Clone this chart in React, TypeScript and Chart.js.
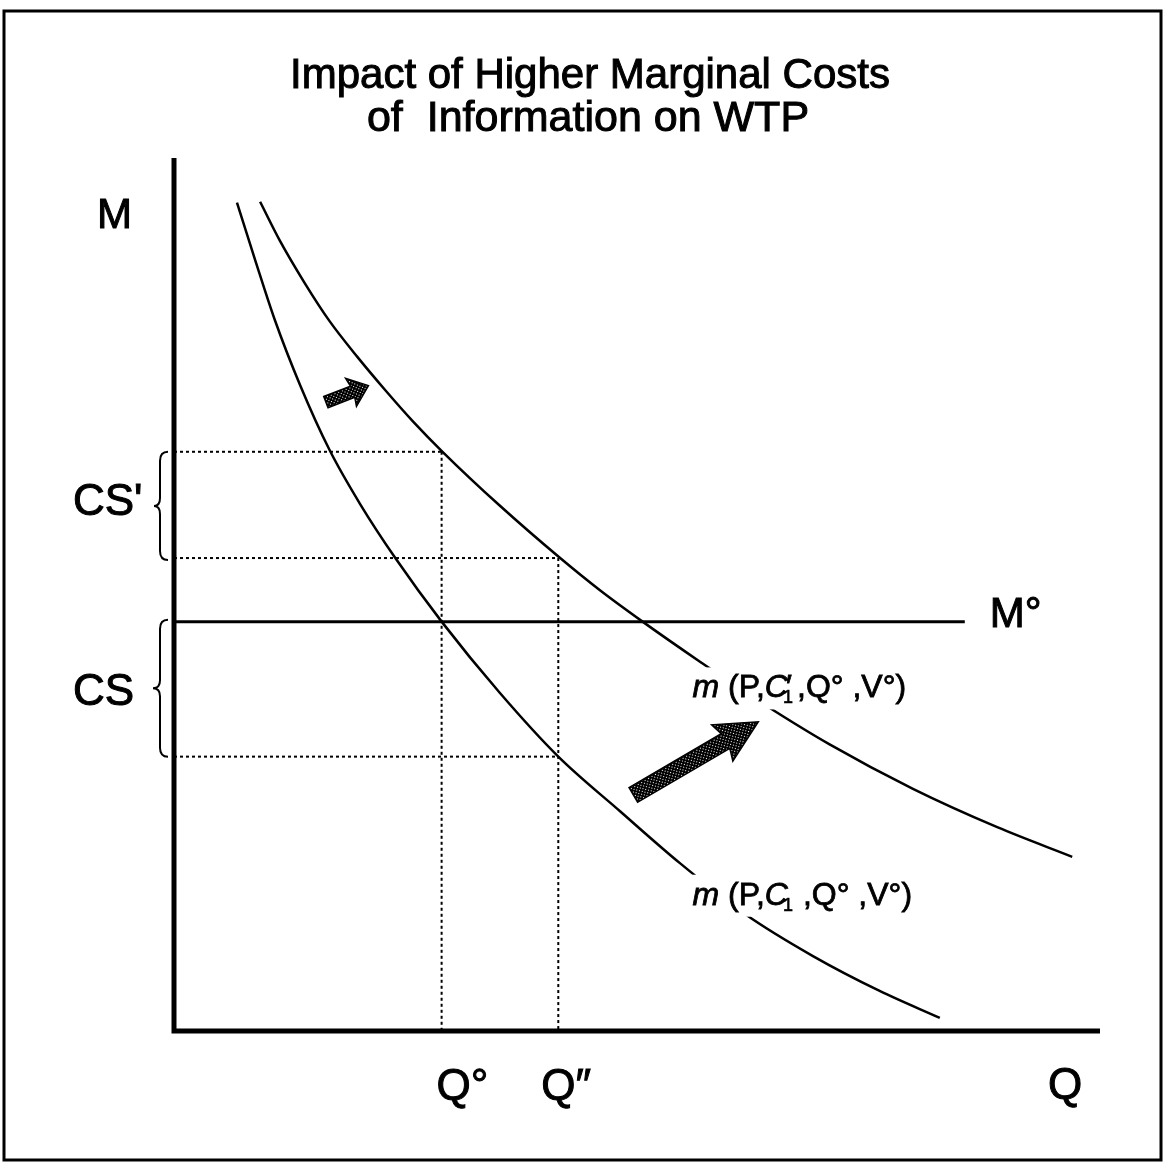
import React, { useEffect, useRef } from "react";
import { Chart, registerables } from "chart.js";

Chart.register(...registerables);

// ---- data (Q = quantity axis 0..100, M = money axis 0..100) ----
const Q_RANGE = [0, 100];
const M_RANGE = [0, 100];

// m(P, C1, Q°, V°)  (lower curve)
const lowerQ = [6.8, 8.8, 10.9, 13.6, 16.8, 20.1, 23.9, 28.9, 35.2, 41.5, 48.2, 54.6, 61.7, 69.0, 76.2, 82.7];
const lowerM = [95.1, 88.4, 81.6, 74.2, 66.7, 60.5, 54.3, 47.0, 38.8, 31.5, 25.2, 19.3, 13.4, 8.6, 4.6, 1.5];

// m(P, C1', Q°, V°)  (upper curve)
const upperQ = [9.3, 11.4, 14.1, 16.8, 19.8, 22.8, 25.8, 29.0, 35.2, 41.7, 46.0, 50.6, 56.8, 62.4, 70.8, 79.8, 88.9, 97.0];
const upperM = [95.2, 90.8, 85.9, 81.5, 77.4, 73.6, 70.0, 66.5, 60.3, 54.3, 50.6, 47.0, 42.4, 38.4, 32.9, 27.8, 23.4, 20.0];

const Q_ZERO = 28.9; // Q°
const Q_DOUBLE = 41.5; // Q″
const M_ZERO = 47.0; // M°
const M_ZERO_END = 85.4;
const UPPER_AT_QZERO = 66.5;
const UPPER_AT_QDOUBLE = 54.3;
const LOWER_AT_QDOUBLE = 31.5;

const TITLE_LINES = ["Impact of Higher Marginal Costs", "of  Information on WTP"];

// arrows: [tailQ, tailM, tipQ, tipM]
const SMALL_ARROW = [16.4, 72.2, 21.0, 74.1];
const BIG_ARROW = [49.6, 27.1, 63.1, 35.5];

const FONT = '"Liberation Sans", Arial, Helvetica, sans-serif';
const f = (size: number, italic = false) => `${italic ? "italic " : ""}${size}px ${FONT}`;

const pts = (qs: number[], ms: number[]) => qs.map((q, i) => ({ x: q, y: ms[i] }));

function heavyText(ctx: CanvasRenderingContext2D, t: string, x: number, y: number, w = 1) {
  ctx.fillText(t, x, y);
  ctx.lineWidth = w;
  ctx.strokeStyle = "#000";
  ctx.strokeText(t, x, y);
}

function makePattern(ctx: CanvasRenderingContext2D) {
  const c = document.createElement("canvas");
  c.width = 4;
  c.height = 4;
  const p = c.getContext("2d")!;
  p.fillStyle = "#000";
  p.fillRect(0, 0, 4, 4);
  p.fillStyle = "#fff";
  p.fillRect(1, 1, 1, 1);
  p.fillRect(3, 3, 1, 1);
  return ctx.createPattern(c, "repeat") || "#444";
}

function drawArrow(
  ctx: CanvasRenderingContext2D,
  x1: number, y1: number, x2: number, y2: number,
  sw: number, hw: number, hl: number
) {
  const dx = x2 - x1, dy = y2 - y1;
  const L = Math.hypot(dx, dy);
  const a = Math.atan2(dy, dx);
  ctx.save();
  ctx.translate(x1, y1);
  ctx.rotate(a);
  ctx.beginPath();
  ctx.moveTo(0, -sw / 2);
  ctx.lineTo(L - hl, -sw / 2);
  ctx.lineTo(L - hl * 1.1, -hw / 2);
  ctx.lineTo(L, 0);
  ctx.lineTo(L - hl * 1.1, hw / 2);
  ctx.lineTo(L - hl, sw / 2);
  ctx.lineTo(0, sw / 2);
  ctx.closePath();
  ctx.fillStyle = makePattern(ctx);
  ctx.fill();
  ctx.lineWidth = 1.5;
  ctx.strokeStyle = "#000";
  ctx.stroke();
  ctx.restore();
}

function drawBrace(ctx: CanvasRenderingContext2D, xTip: number, xSpine: number, xPoint: number, yTop: number, yBot: number) {
  const ym = (yTop + yBot) / 2;
  ctx.save();
  ctx.beginPath();
  ctx.moveTo(xTip, yTop);
  ctx.quadraticCurveTo(xSpine, yTop, xSpine, yTop + 9);
  ctx.lineTo(xSpine, ym - 8);
  ctx.quadraticCurveTo(xSpine, ym, xPoint, ym);
  ctx.quadraticCurveTo(xSpine, ym, xSpine, ym + 8);
  ctx.lineTo(xSpine, yBot - 9);
  ctx.quadraticCurveTo(xSpine, yBot, xTip, yBot);
  ctx.lineWidth = 2;
  ctx.strokeStyle = "#000";
  ctx.stroke();
  ctx.restore();
}

function drawCurveLabel(ctx: CanvasRenderingContext2D, x: number, b: number, primed: boolean) {
  const size = 32;
  const tail = primed ? ",Q\u00b0 ,V\u00b0)" : " ,Q\u00b0 ,V\u00b0)";
  ctx.save();
  ctx.font = f(size, true);
  const wm = ctx.measureText("m ").width;
  const wC = ctx.measureText("C").width;
  ctx.font = f(size);
  const wP = ctx.measureText("(P,").width;
  const wTail = ctx.measureText(tail).width;
  ctx.font = f(18);
  const w1 = ctx.measureText("1").width;
  const total = wm + wP + wC + w1 - 4 + (primed ? 3 : 0) + wTail;

  ctx.fillStyle = "#fff";
  ctx.fillRect(x - 8, b - 30, total + 18, 42);
  ctx.fillStyle = "#000";
  ctx.textBaseline = "alphabetic";
  ctx.textAlign = "left";

  let cx = x;
  ctx.font = f(size, true);
  heavyText(ctx, "m", cx, b, 0.8);
  cx += wm;
  ctx.font = f(size);
  heavyText(ctx, "(P,", cx, b, 0.8);
  cx += wP;
  ctx.font = f(size, true);
  heavyText(ctx, "C", cx, b, 0.8);
  cx += wC;
  ctx.font = f(18);
  heavyText(ctx, "1", cx - 5, b + 6, 0.6);
  if (primed) {
    ctx.font = f(size);
    heavyText(ctx, "\u2032", cx - 2, b, 0.8);
  }
  cx += w1 - 4 + (primed ? 3 : 0);
  ctx.font = f(size);
  heavyText(ctx, tail, cx, b, 0.8);
  ctx.restore();
}

const decorPlugin = {
  id: "decor",
  afterDatasetsDraw(chart: any) {
    const ctx: CanvasRenderingContext2D = chart.ctx;
    const xs = chart.scales.x;
    const ys = chart.scales.y;
    const px = (q: number) => xs.getPixelForValue(q);
    const py = (m: number) => ys.getPixelForValue(m);
    const area = chart.chartArea;

    // curve labels (with white background breaking the curves)
    drawCurveLabel(ctx, px(56.0), py(38.3), true);
    drawCurveLabel(ctx, px(56.0), py(14.5), false);

    // arrows
    drawArrow(ctx, px(SMALL_ARROW[0]), py(SMALL_ARROW[1]), px(SMALL_ARROW[2]), py(SMALL_ARROW[3]), 12, 30, 17);
    drawArrow(ctx, px(BIG_ARROW[0]), py(BIG_ARROW[1]), px(BIG_ARROW[2]), py(BIG_ARROW[3]), 17, 42, 38);

    // braces
    const left = area.left;
    drawBrace(ctx, left - 6, left - 14, left - 20, py(UPPER_AT_QZERO), py(UPPER_AT_QDOUBLE) + 2);
    drawBrace(ctx, left - 6, left - 14, left - 21, py(M_ZERO) - 2, py(LOWER_AT_QDOUBLE));

    // axes
    ctx.save();
    ctx.strokeStyle = "#000";
    ctx.lineWidth = 5;
    ctx.beginPath();
    ctx.moveTo(area.left, area.top - 2);
    ctx.lineTo(area.left, area.bottom + 2.5);
    ctx.moveTo(area.left - 2.5, area.bottom);
    ctx.lineTo(area.right, area.bottom);
    ctx.stroke();
    ctx.restore();

    // text labels
    ctx.save();
    ctx.fillStyle = "#000";
    ctx.textBaseline = "alphabetic";
    ctx.textAlign = "left";
    ctx.font = f(42);
    heavyText(ctx, "M", 97, 228);
    heavyText(ctx, "M\u00b0", px(M_ZERO_END) + 25, py(M_ZERO) + 5);
    ctx.font = f(44);
    heavyText(ctx, "CS'", 73, 515);
    heavyText(ctx, "CS", 73, 705);
    heavyText(ctx, "Q", 1048, 1099);
    heavyText(ctx, "Q\u00b0", px(Q_ZERO) - 5, 1100);
    heavyText(ctx, "Q\u2033", px(Q_DOUBLE) - 17, 1100);

    // title
    ctx.textAlign = "center";
    ctx.font = f(42);
    heavyText(ctx, TITLE_LINES[0], 590, 88);
    ctx.font = f(43);
    heavyText(ctx, TITLE_LINES[1], 588, 131);
    ctx.restore();

    // frame
    ctx.save();
    ctx.strokeStyle = "#000";
    ctx.lineWidth = 3;
    ctx.strokeRect(4, 11, 1157, 1149);
    ctx.restore();
  },
};

export default function App() {
  const ref = useRef<HTMLCanvasElement | null>(null);

  useEffect(() => {
    document.body.style.margin = "0";
    const canvas = ref.current!;
    const dotted = { borderColor: "#000", borderWidth: 2, borderDash: [3, 3], pointRadius: 0, tension: 0 };
    const chart = new Chart(canvas, {
      type: "line",
      data: {
        datasets: [
          { data: pts(lowerQ, lowerM), borderColor: "#000", borderWidth: 2.5, pointRadius: 0, cubicInterpolationMode: "monotone" } as any,
          { data: pts(upperQ, upperM), borderColor: "#000", borderWidth: 2.5, pointRadius: 0, cubicInterpolationMode: "monotone" } as any,
          { data: [{ x: 0, y: M_ZERO }, { x: M_ZERO_END, y: M_ZERO }], borderColor: "#000", borderWidth: 3, pointRadius: 0 },
          { data: [{ x: 0, y: UPPER_AT_QZERO }, { x: Q_ZERO, y: UPPER_AT_QZERO }], ...dotted },
          { data: [{ x: Q_ZERO, y: UPPER_AT_QZERO }, { x: Q_ZERO, y: 0 }], ...dotted },
          { data: [{ x: 0, y: UPPER_AT_QDOUBLE }, { x: Q_DOUBLE, y: UPPER_AT_QDOUBLE }], ...dotted },
          { data: [{ x: Q_DOUBLE, y: UPPER_AT_QDOUBLE }, { x: Q_DOUBLE, y: 0 }], ...dotted },
          { data: [{ x: 0, y: LOWER_AT_QDOUBLE }, { x: Q_DOUBLE, y: LOWER_AT_QDOUBLE }], ...dotted },
        ] as any,
      },
      options: {
        animation: false,
        responsive: false,
        maintainAspectRatio: false,
        layout: { padding: { left: 174, right: 64, top: 160, bottom: 133 } },
        scales: {
          x: { type: "linear", min: Q_RANGE[0], max: Q_RANGE[1], display: false },
          y: { type: "linear", min: M_RANGE[0], max: M_RANGE[1], display: false },
        },
        plugins: { legend: { display: false }, tooltip: { enabled: false }, title: { display: false } },
      },
      plugins: [decorPlugin],
    });
    return () => chart.destroy();
  }, []);

  return (
    <div style={{ width: 1164, height: 1164, background: "#fff" }}>
      <canvas ref={ref} width={1164} height={1164} style={{ display: "block" }} />
    </div>
  );
}
